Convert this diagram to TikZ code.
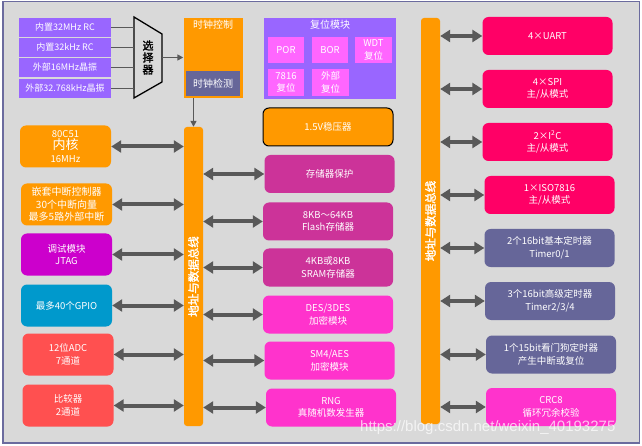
\documentclass[tikz,border=0pt]{standalone}
\usepackage{fontspec}
\setmainfont{Noto Sans CJK SC}[AutoFakeBold=2]
\newfontfamily\wmfont{Liberation Sans}
\usepackage{tikz}
\usetikzlibrary{arrows.meta}

\definecolor{bggray}{HTML}{D9D9D9}
\definecolor{framecol}{HTML}{6B6B9E}
\definecolor{clkpurple}{HTML}{9966FF}
\definecolor{busorange}{HTML}{FF9900}
\definecolor{slate}{HTML}{666699}
\definecolor{resetpink}{HTML}{FF66FF}
\definecolor{memmag}{HTML}{CC3399}
\definecolor{cryptopink}{HTML}{FF33CC}
\definecolor{dbgmag}{HTML}{CC00CC}
\definecolor{gpioblue}{HTML}{0099CC}
\definecolor{adcred}{HTML}{FF5050}
\definecolor{commred}{HTML}{FF0066}
\definecolor{arrgray}{HTML}{595959}

\begin{document}
\begin{tikzpicture}[x=1pt, y=-1pt,
        txt/.style={text=white, align=center, inner sep=0pt, font=\fontsize{9.5}{12.5}\selectfont},
        srcbox/.style={txt, fill=clkpurple, minimum width=92pt, minimum height=19pt, font=\fontsize{9}{11}\selectfont},
        lbox/.style={txt, rounded corners=6pt, minimum width=91pt, minimum height=42pt},
        mbox/.style={txt, rounded corners=6pt, minimum width=130pt, minimum height=38pt},
        rstbox/.style={txt, fill=resetpink, minimum width=36pt, minimum height=26pt},
        bus/.style={fill=busorange, rounded corners=3pt, minimum width=19pt, inner sep=0pt},
        bustext/.style={rotate=90, text=white, font=\fontsize{11.5}{12}\selectfont\bfseries},
        biarrow/.style={draw=arrgray, line width=4pt, {Triangle[length=10pt,width=12pt]}-{Triangle[length=10pt,width=12pt]}},
        feed/.style={draw=arrgray, line width=1.6pt, -{Triangle[length=6pt,width=6pt]}}]
        % frame and background
        \fill[white] (0,0) rectangle (642,446);
        \draw[framecol, fill=bggray, line width=1.5pt] (3,1.5) rectangle (639.5,443);

        % clock sources and selector
        \node[srcbox] (src1) at (65,27.5) {内置32MHz RC};
        \node[srcbox] (src2) at (65,47.5) {内置32kHz RC};
        \node[srcbox] (src3) at (65,67.5) {外部16MHz晶振};
        \node[srcbox] (src4) at (65,88.5) {外部32.768kHz晶振};
        \draw[line width=1.3pt] (134,17) -- (162,34) -- (162,82) -- (134,98) -- cycle;
        \node[minimum width=28pt, minimum height=81pt, inner sep=0pt, align=center,
            font=\fontsize{11}{12}\selectfont\bfseries] (mux) at (148,57.5) {选\\择\\器};
        \foreach \s in {src1,src2,src3,src4}
            \draw[arrgray, line width=1.6pt] (\s.east) -- (\s.east -| mux.west);

        % clock control
        \node[fill=busorange, minimum width=59pt, minimum height=80pt, inner sep=0pt] (clk) at (213,58) {};
        \node[txt, font=\fontsize{10}{12}\selectfont] (clktitle) at (213,25) {时钟控制};
        \node[txt, fill=slate, minimum width=54pt, minimum height=25pt, font=\fontsize{10}{12}\selectfont] (clkdet) at (213,84) {时钟检测};
        \draw[feed] (mux.east) -- (mux.east -| clk.west);

        % buses
        \node[bus, minimum height=299pt] (busL) at (193.5,276.5) {};
        \node[bustext] at (busL) {地址与数据总线};
        \node[bus, minimum height=406pt] (busR) at (430.5,221) {};
        \node[bustext] at (busR) {地址与数据总线};
        \draw[feed] (clk.south -| busL.north) -- (busL.north);

        % reset module
        \node[fill=clkpurple, minimum width=132pt, minimum height=81pt, inner sep=0pt] (rst) at (330,58.5) {};
        \node[txt, font=\fontsize{10}{12}\selectfont] (rsttitle) at (330,25) {复位模块};
        \node[rstbox] (por) at (286,50) {POR};
        \node[rstbox] (bor) at (330,50) {BOR};
        \node[rstbox, minimum width=37pt] (wdtrst) at (373.5,50) {WDT\\复位};
        \node[rstbox, minimum height=27pt] (isorst) at (286,82.5) {7816\\复位};
        \node[rstbox, minimum height=27pt, minimum width=37pt] (extrst) at (330.5,82.5) {外部\\复位};

        % left column
        \node[lbox, fill=busorange] (core) at (65.5,146.5) {80C51\\{\fontsize{13}{15}\selectfont 内核}\\16MHz};
        \node[lbox, fill=busorange, font=\fontsize{10}{12.5}\selectfont] (intc) at (66.5,204.5) {嵌套中断控制器\\30个中断向量\\最多5路外部中断};
        \node[lbox, fill=dbgmag] (dbg) at (66.5,254.5) {调试模块\\JTAG};
        \node[lbox, fill=gpioblue] (gpio) at (66.5,305.5) {最多40个GPIO};
        \node[lbox, fill=adcred] (adc) at (68,354.5) {12位ADC\\7通道};
        \node[lbox, fill=adcred] (cmp) at (68,405.5) {比较器\\2通道};
        \foreach \b in {core,intc,dbg,gpio,adc,cmp}
            \draw[biarrow] (\b.east) -- (\b.east -| busL.west);

        % middle column
        \node[mbox, fill=busorange, draw=black, line width=1pt] (ldo) at (328,127) {1.5V稳压器};
        \node[mbox, fill=memmag] (mprot) at (329.5,174) {存储器保护};
        \node[mbox, fill=memmag] (flash) at (328,221.5) {8KB～64KB\\Flash存储器};
        \node[mbox, fill=memmag] (sram) at (328,267.5) {4KB或8KB\\SRAM存储器};
        \node[mbox, fill=cryptopink] (des) at (328,314.5) {DES/3DES\\加密模块};
        \node[mbox, fill=cryptopink] (sm4) at (329.5,360.5) {SM4/AES\\加密模块};
        \node[mbox, fill=cryptopink] (rng) at (331,407.5) {RNG\\真随机数发生器};
        \foreach \b in {mprot,flash,sram,des,sm4,rng}
            \draw[biarrow] (\b.west -| busL.east) -- (\b.west);

        % right column
        \node[mbox, fill=commred] (uart) at (547.5,36) {4×UART};
        \node[mbox, fill=commred] (spi) at (547.5,89) {4×SPI\\主/从模式};
        \node[mbox, fill=commred] (iic) at (547.5,142) {2×I\textsuperscript{2}C\\主/从模式};
        \node[mbox, fill=commred] (iso) at (549.5,195) {1×ISO7816\\主/从模式};
        \node[mbox, fill=slate] (tim01) at (549.5,248) {2个16bit基本定时器\\Timer0/1};
        \node[mbox, fill=slate] (tim234) at (550,301) {3个16bit高级定时器\\Timer2/3/4};
        \node[mbox, fill=slate] (wdt) at (551,354.5) {1个15bit看门狗定时器\\产生中断或复位};
        \node[mbox, fill=cryptopink] (crc) at (551,407) {CRC8\\循环冗余校验};
        \foreach \b in {uart,spi,iic,iso,tim01,tim234,wdt,crc}
            \draw[biarrow] (\b.west -| busR.east) -- (\b.west);

        % watermark
        \node[anchor=base west, text=white, opacity=0.7, inner sep=0pt,
            font=\wmfont\fontsize{15}{15}\selectfont] (wm) at (360,431) {https://blog.csdn.net/weixin\_40193275};
\end{tikzpicture}
\end{document}
